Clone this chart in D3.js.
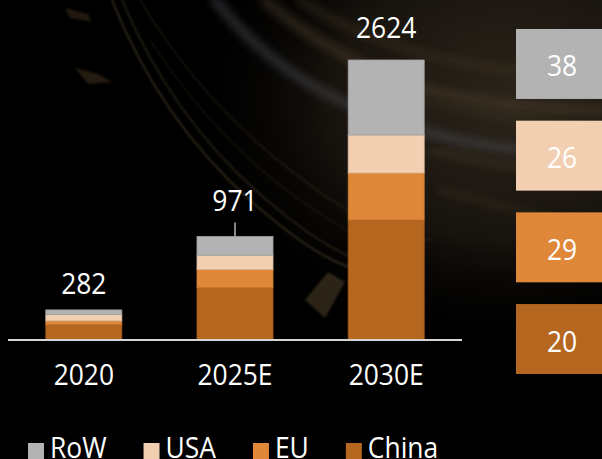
<!DOCTYPE html>
<html>
<head>
<meta charset="utf-8">
<script src="https://cdn.jsdelivr.net/npm/d3@7"></script>
<style>
  html, body { margin: 0; padding: 0; background: #000; overflow: hidden; }
  svg { display: block; }
  text { font-family: "Open Sans", "Noto Sans", sans-serif; fill: #fff; }
</style>
</head>
<body>
<svg id="chart" width="602" height="459"></svg>
<script>
// Market volume by region (stacked), with growth rates per region
const years = ["2020", "2025E", "2030E"];
const regions = ["China", "EU", "USA", "RoW"];           // bottom -> top
const china = [144, 490, 1125];
const eu    = [35, 170, 440];
const usa   = [59, 135, 356];
const row   = [44, 176, 703];
const totals = [282, 971, 2624];
const growth = [38, 26, 29, 20];                           // RoW, USA, EU, China
const growthOrder = ["RoW", "USA", "EU", "China"];
const legendOrder = ["RoW", "USA", "EU", "China"];

const colors = { RoW: "#b3b3b3", USA: "#f3cfb1", EU: "#e0883a", China: "#b5661f" };

const svg = d3.select("#chart");
const W = 602, H = 459;
const FS = 30, SX = 0.88;   // label font size and horizontal squeeze

// ---------- background: dark scene with soft golden light trails ----------
const defs = svg.append("defs");
const haze = defs.append("radialGradient").attr("id", "haze")
  .attr("cx", 0.85).attr("cy", 0.22).attr("r", 0.55);
haze.append("stop").attr("offset", 0).attr("stop-color", "#2c251b").attr("stop-opacity", 1);
haze.append("stop").attr("offset", 0.55).attr("stop-color", "#1a150f").attr("stop-opacity", 0.9);
haze.append("stop").attr("offset", 1).attr("stop-color", "#000").attr("stop-opacity", 0);
defs.append("filter").attr("id", "soft").append("feGaussianBlur").attr("stdDeviation", 1.2);
defs.append("filter").attr("id", "softer").append("feGaussianBlur").attr("stdDeviation", 4);

const bg = svg.append("g");
bg.append("rect").attr("width", W).attr("height", H).attr("fill", "#000");
bg.append("rect").attr("width", W).attr("height", H).attr("fill", "url(#haze)");

const trails = [
  { d: "M215,0 Q270,70 350,105 T520,150", c: "#4a4c52", w: 9, o: 0.55, f: "softer" },
  { d: "M265,0 Q320,50 400,80 T602,110", c: "#4a3c2a", w: 10, o: 0.5, f: "softer" },
  { d: "M300,0 Q360,40 450,60 T602,70", c: "#3c3222", w: 8, o: 0.5, f: "softer" },
  { d: "M112,0 Q160,120 250,200 T380,270", c: "#6b5a38", w: 1.6, o: 0.55, f: "soft" },
  { d: "M122,0 Q172,118 262,196 T392,262", c: "#6b5a38", w: 1.4, o: 0.45, f: "soft" },
  { d: "M140,0 Q200,100 290,170 T430,240", c: "#5a4a30", w: 1.2, o: 0.4, f: "soft" },
  { d: "M150,40 Q215,140 300,200 T420,250", c: "#4d4028", w: 1.2, o: 0.35, f: "soft" },
  { d: "M430,150 Q500,165 602,180", c: "#4a3e2c", w: 6, o: 0.45, f: "softer" },
  { d: "M440,190 Q520,210 602,235", c: "#3a3022", w: 6, o: 0.45, f: "softer" },
  { d: "M420,100 Q500,120 602,130", c: "#40362a", w: 5, o: 0.4, f: "softer" }
];
bg.selectAll("path.trail").data(trails).join("path")
  .attr("class", "trail")
  .attr("d", d => d.d)
  .attr("fill", "none")
  .attr("stroke", d => d.c)
  .attr("stroke-width", d => d.w)
  .attr("stroke-opacity", d => d.o)
  .attr("stroke-linecap", "round")
  .attr("filter", d => `url(#${d.f})`);
// small blurred flecks
bg.append("path").attr("d", "M305,300 L328,272 L345,282 L325,318 Z")
  .attr("fill", "#4a3e28").attr("opacity", 0.6).attr("filter", "url(#soft)");
bg.append("path").attr("d", "M75,68 L98,74 L112,82 L88,84 Z")
  .attr("fill", "#4a3822").attr("opacity", 0.5).attr("filter", "url(#soft)");
bg.append("path").attr("d", "M65,8 L88,14 L92,22 L70,18 Z")
  .attr("fill", "#4a3822").attr("opacity", 0.45).attr("filter", "url(#soft)");

// ---------- scales ----------
const x = d3.scaleBand().domain(years).range([8, 462]).paddingInner(0.497).paddingOuter(0.25);
const y = d3.scaleLinear().domain([0, 2624]).range([340, 60]);

const table = years.map((yr, i) => ({ year: yr, China: china[i], EU: eu[i], USA: usa[i], RoW: row[i], total: totals[i] }));
const stack = d3.stack().keys(regions)(table);

// ---------- stacked bars ----------
const g = svg.append("g");
g.selectAll("g.layer").data(stack).join("g")
  .attr("class", "layer")
  .attr("fill", d => colors[d.key])
  .attr("stroke", d => d3.color(colors[d.key]).darker(0.35))
  .attr("stroke-width", 0.8)
  .selectAll("rect").data(d => d).join("rect")
  .attr("x", d => x(d.data.year))
  .attr("y", d => y(d[1]))
  .attr("width", x.bandwidth())
  .attr("height", d => y(d[0]) - y(d[1]));

// baseline
g.append("line")
  .attr("x1", 8).attr("x2", 462).attr("y1", 340).attr("y2", 340)
  .attr("stroke", "#d4d4d4").attr("stroke-width", 2);

// x axis labels
const ax = g.append("g").attr("transform", "translate(0,385)")
  .call(d3.axisBottom(x).tickSize(0).tickPadding(0));
ax.select(".domain").remove();
ax.selectAll("text")
  .attr("y", 0).attr("dy", 0)
  .attr("font-size", FS)
  .attr("fill", "#fff")
  .style("font-family", '"Open Sans", sans-serif')
  .attr("transform", `scale(${SX},1)`);

// total labels above bars
const labelGap = [16, 25, 22];
g.selectAll("text.total").data(table).join("text")
  .attr("class", "total")
  .attr("text-anchor", "middle")
  .attr("font-size", FS)
  .attr("transform", (d, i) => `translate(${x(d.year) + x.bandwidth() / 2},${y(d.total) - labelGap[i]}) scale(${SX},1)`)
  .text(d => d3.format("d")(d.total));

// leader tick for the middle label
g.append("line")
  .attr("x1", x("2025E") + x.bandwidth() / 2).attr("x2", x("2025E") + x.bandwidth() / 2)
  .attr("y1", y(totals[1]) - 14).attr("y2", y(totals[1]))
  .attr("stroke", "#b3b3b3").attr("stroke-width", 1.5);

// ---------- growth boxes on the right ----------
const boxY = d3.scaleBand().domain(growthOrder).range([29, 374]).paddingInner(0.237).paddingOuter(0);
const boxes = svg.append("g");
boxes.selectAll("rect").data(growthOrder).join("rect")
  .attr("x", 516).attr("width", 92)
  .attr("y", d => boxY(d)).attr("height", boxY.bandwidth())
  .attr("fill", d => colors[d]);
boxes.selectAll("text").data(growthOrder).join("text")
  .attr("text-anchor", "middle")
  .attr("font-size", FS)
  .attr("fill", "#f7f7f7")
  .attr("transform", d => `translate(562,${boxY(d) + boxY.bandwidth() / 2 + 12.5}) scale(${SX},1)`)
  .text((d, i) => growth[i]);

// ---------- legend (items flow left to right) ----------
const legend = svg.append("g");
let lx = 28;
legendOrder.forEach(key => {
  const item = legend.append("g").attr("transform", `translate(${lx},443)`);
  item.append("rect").attr("width", 16).attr("height", 16).attr("fill", colors[key]);
  const t = item.append("text")
    .attr("font-size", FS)
    .attr("transform", `translate(22,15) scale(${SX},1)`)
    .text(key);
  const w = t.node().getComputedTextLength() * SX;
  lx += 22 + w + 37;
});
</script>
</body>
</html>
